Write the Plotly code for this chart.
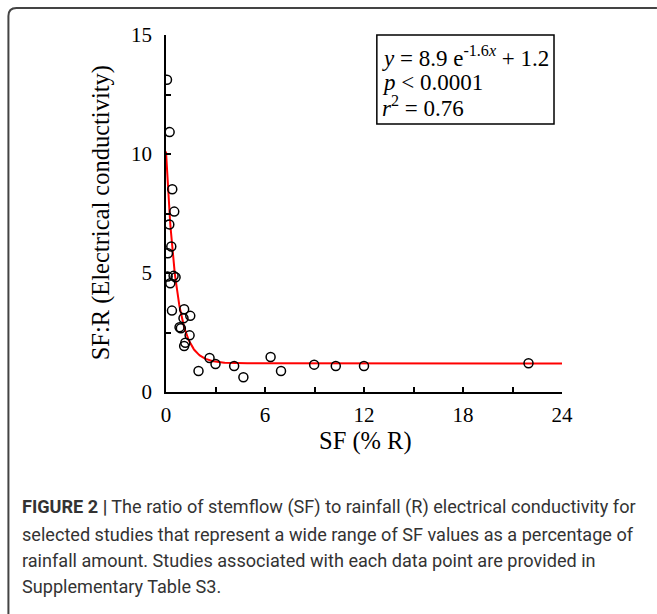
import numpy as np
import plotly.graph_objects as go

# Data
sf_pct = [0.06, 0.22, 0.38, 0.50, 0.20, 0.32, 0.12, 0.10, 0.26, 0.46, 0.58,
          0.36, 1.10, 1.06, 1.47, 0.82, 0.90, 1.43, 1.10, 1.17, 2.64, 3.00,
          1.97, 4.13, 4.69, 6.34, 6.97, 8.98, 10.29, 12.00, 21.97]
sf_r_ec = [13.12, 10.92, 8.52, 7.58, 7.04, 6.11, 5.83, 4.85, 4.57, 4.88, 4.82,
           3.42, 3.48, 3.10, 3.20, 2.72, 2.68, 2.38, 1.93, 2.07, 1.43, 1.18,
           0.88, 1.09, 0.62, 1.47, 0.88, 1.15, 1.09, 1.09, 1.21]

# Fitted model shown on the chart: y = a * exp(b x) + c
fit_a, fit_b, fit_c = 8.9, -1.6, 1.2
x_ticks = [0, 6, 12, 18, 24]
y_ticks = [0, 5, 10, 15]

fit_x = np.linspace(0, 24, 600)
fit_y = fit_a * np.exp(fit_b * fit_x) + fit_c

W, H = 657, 614
L, R, T, B = 165.7, 95, 35, 222
PW, PH = W - L - R, H - T - B

def px(xp):
    return (xp - L) / PW

def py(yp):
    return (H - B - yp) / PH

serif = "Liberation Serif"
fig = go.Figure()
fig.add_trace(go.Scatter(x=fit_x, y=fit_y, mode="lines",
                         line=dict(color="#ff0000", width=2), hoverinfo="skip"))
fig.add_trace(go.Scatter(x=sf_pct, y=sf_r_ec, mode="markers",
                         marker=dict(symbol="circle-open", size=9, color="black",
                                     line=dict(width=1.5, color="black"))))

axis_common = dict(showgrid=False, zeroline=False, showline=True, linecolor="black",
                   linewidth=1.5, ticks="inside", tickcolor="black", tickwidth=1.5,
                   ticklen=5, tickfont=dict(family=serif, size=21, color="black"),
                   minor=dict(ticks="inside", ticklen=5, tickcolor="black", tickwidth=1.5))
fig.update_xaxes(range=[0, 24], tickvals=x_ticks, **axis_common,
                 ticklabelstandoff=3)
fig.update_xaxes(minor=dict(dtick=3, tick0=0))
fig.update_yaxes(range=[0, 15], tickvals=y_ticks, **axis_common,
                 ticklabelstandoff=8)
fig.update_yaxes(minor=dict(dtick=2.5, tick0=0))

ann = []
ann.append(dict(text="SF (% R)", x=px(365), y=py(441), xref="paper", yref="paper",
                showarrow=False, font=dict(family=serif, size=24.5, color="black"),
                xanchor="center", yanchor="middle"))
ann.append(dict(text="SF:R (Electrical conductivity)", x=px(101), y=py(213),
                xref="paper", yref="paper", textangle=-90, showarrow=False,
                font=dict(family=serif, size=24.5, color="black"),
                xanchor="center", yanchor="middle"))
eq_lines = ["<i>y</i> = 8.9 e<sup>-1.6<i>x</i></sup> + 1.2",
            "<i>p</i> &lt; 0.0001",
            "<i>r</i><sup>2</sup> = 0.76"]
eq_y = [56, 82, 107]
for t, yy in zip(eq_lines, eq_y):
    ann.append(dict(text=t, x=px(380), y=py(yy), xref="paper", yref="paper",
                    showarrow=False, font=dict(family=serif, size=23, color="black"),
                    xanchor="left", yanchor="middle"))

cap_lines = ["<b>FIGURE 2 |</b> The ratio of stemflow (SF) to rainfall (R) electrical conductivity for",
             "selected studies that represent a wide range of SF values as a percentage of",
             "rainfall amount. Studies associated with each data point are provided in",
             "Supplementary Table S3."]
cap_y = [507, 534, 560, 586]
for t, yy in zip(cap_lines, cap_y):
    ann.append(dict(text=t, x=px(20), y=py(yy), xref="paper", yref="paper",
                    showarrow=False, font=dict(family="Roboto", size=18.1, color="#333333"),
                    xanchor="left", yanchor="middle"))

shapes = [
    dict(type="rect", xref="paper", yref="paper", x0=px(376.7), x1=px(554),
         y0=py(124), y1=py(35), line=dict(color="black", width=1.5)),
    dict(type="path", xref="paper", yref="paper",
         path=f"M {px(8)},{py(614)} L {px(8)},{py(16)} Q {px(8)},{py(8)} {px(16)},{py(8)} L {px(657)},{py(8)}",
         line=dict(color="#444444", width=2)),
]

fig.update_layout(width=W, height=H, margin=dict(l=L, r=R, t=T, b=B),
                  plot_bgcolor="white", paper_bgcolor="white", showlegend=False,
                  annotations=ann, shapes=shapes)
fig.write_html("out.html", config={"displayModeBar": False},
               post_script="document.body.style.margin='0';document.body.style.padding='0';")
